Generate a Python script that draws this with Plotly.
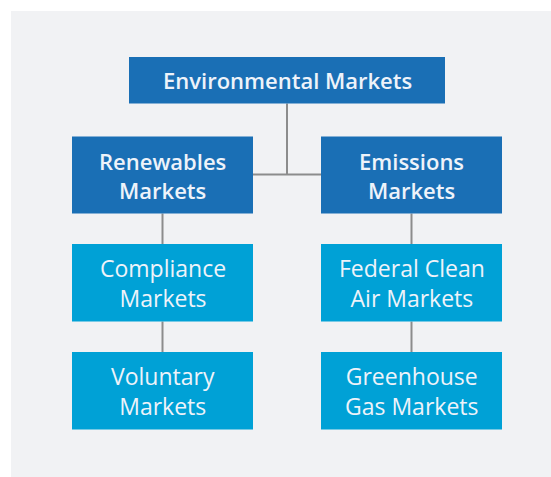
import plotly.graph_objects as go

# Hierarchy data
labels = ["Environmental Markets",
          "Renewables<br>Markets", "Emissions<br>Markets",
          "Compliance<br>Markets", "Federal Clean<br>Air Markets",
          "Voluntary<br>Markets", "Greenhouse<br>Gas Markets"]
parents = [None, 0, 0, 1, 2, 3, 4]
levels = [0, 1, 1, 2, 2, 3, 3]

W, H = 551, 477
DARK = "#1a6fb5"
LIGHT = "#00a1d6"
LINE = "#8c8c8c"
BG = "#f1f2f4"

# layout geometry (pixels)
col_x = {0: (129, 445)}
side_cols = [(72, 253), (321, 502)]
row_y = {0: (57, 103.5), 1: (136.5, 213.5), 2: (244, 321.5), 3: (352, 429.5)}

boxes = []
col_index = {}
for i, lv in enumerate(levels):
    if lv == 0:
        x0, x1 = col_x[0]
    else:
        if lv == 1:
            col_index[i] = [j for j in range(len(levels)) if levels[j] == 1].index(i)
        else:
            col_index[i] = col_index[parents[i]]
        x0, x1 = side_cols[col_index[i]]
    y0, y1 = row_y[lv]
    boxes.append((x0, x1, y0, y1))

shapes = [dict(type="rect", xref="x", yref="y", x0=11, x1=W + 5, y0=11, y1=H + 5,
               fillcolor=BG, line=dict(width=0), layer="below")]

# connectors
root = boxes[0]
rcx = (root[0] + root[1]) / 2
l1 = [i for i in range(len(levels)) if levels[i] == 1]
hy = (row_y[1][0] + row_y[1][1]) / 2 - 0.5
shapes.append(dict(type="line", x0=rcx, x1=rcx, y0=root[3], y1=hy,
                   line=dict(color=LINE, width=2), layer="below"))
shapes.append(dict(type="line", x0=boxes[l1[0]][1], x1=boxes[l1[1]][0], y0=hy, y1=hy,
                   line=dict(color=LINE, width=2), layer="below"))
for i, p in enumerate(parents):
    if p is None or levels[i] == 1:
        continue
    cx = (boxes[i][0] + boxes[i][1]) / 2
    shapes.append(dict(type="line", x0=cx, x1=cx, y0=boxes[p][3], y1=boxes[i][2],
                       line=dict(color=LINE, width=2), layer="below"))

annotations = []
for i, (x0, x1, y0, y1) in enumerate(boxes):
    dark = levels[i] <= 1
    shapes.append(dict(type="rect", x0=x0, x1=x1, y0=y0, y1=y1,
                       fillcolor=DARK if dark else LIGHT, line=dict(width=0)))
    annotations.append(dict(x=(x0 + x1) / 2, y=(y0 + y1) / 2, xref="x", yref="y",
                            text=labels[i], showarrow=False,
                            font=dict(family="Open Sans", size=22 if dark else 23,
                                      color="#eef3fa",
                                      weight=600 if dark else 400),
                            align="center"))

fig = go.Figure()
fig.update_layout(width=W, height=H, margin=dict(l=0, r=0, t=0, b=0),
                  paper_bgcolor="white", plot_bgcolor="white",
                  shapes=shapes, annotations=annotations, showlegend=False)
fig.update_xaxes(range=[0, W], visible=False, fixedrange=True)
fig.update_yaxes(range=[H, 0], visible=False, fixedrange=True)
fig.write_html("out.html", config={"displayModeBar": False},
               post_script="document.body.style.margin='0';document.body.style.overflow='hidden';")
